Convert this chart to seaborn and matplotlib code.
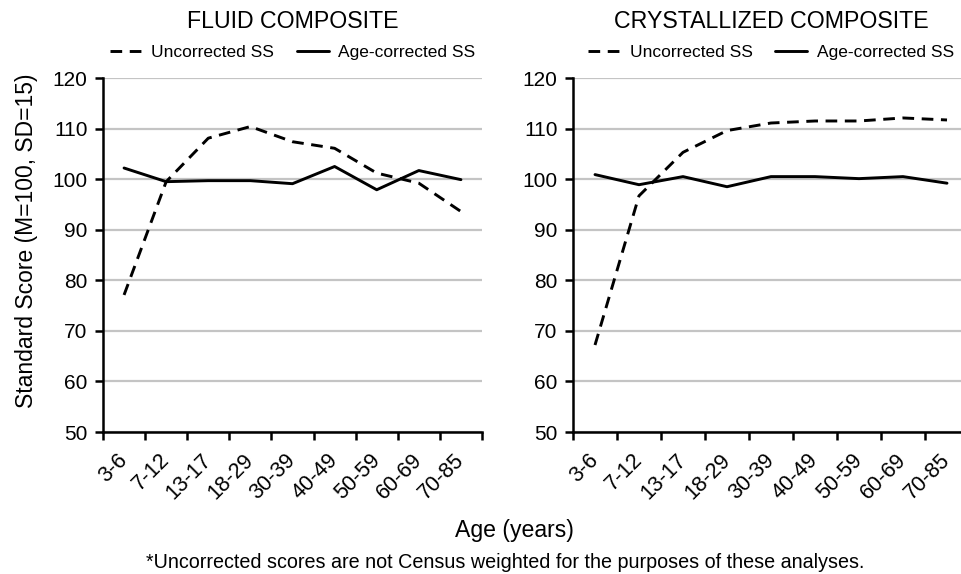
import numpy as np
import pandas as pd
import matplotlib
matplotlib.use("Agg")
import matplotlib.pyplot as plt
import matplotlib.transforms as mtransforms
import seaborn as sns

# age bands shared by both panels
ages = ["3-6", "7-12", "13-17", "18-29", "30-39", "40-49", "50-59", "60-69", "70-85"]

# values
fluid_uncorrected = [77.1, 99.5, 108.1, 110.4, 107.4, 106.1, 101.2, 99.2, 93.6]
fluid_age_corrected = [102.2, 99.5, 99.7, 99.7, 99.1, 102.5, 97.9, 101.7, 99.9]
cryst_uncorrected = [67.2, 96.7, 105.3, 109.6, 111.1, 111.5, 111.5, 112.1, 111.7]
cryst_age_corrected = [100.9, 98.9, 100.5, 98.5, 100.5, 100.5, 100.1, 100.5, 99.2]

panel_titles = ["FLUID COMPOSITE", "CRYSTALLIZED COMPOSITE"]
series_names = ["Uncorrected SS", "Age-corrected SS"]

sns.set_theme(style="white")
plt.rcParams["font.family"] = ["Liberation Sans", "DejaVu Sans"]
plt.rcParams.update({"text.color": "black", "xtick.color": "black",
                     "ytick.color": "black", "axes.labelcolor": "black"})

W, H = 961, 574
fig = plt.figure(figsize=(W / 100, H / 100), dpi=100)
# axes boxes in pixels: left, top, width; bottom edge shared at y=432
boxes = [(103, 78, 379), (573, 78, 396)]

for i, (x0, top, w) in enumerate(boxes):
    ax = fig.add_axes([x0 / W, 1 - 432 / H, w / W, (432 - top) / H])
    unc = [fluid_uncorrected, cryst_uncorrected][i]
    corr = [fluid_age_corrected, cryst_age_corrected][i]
    df = pd.DataFrame({"age": ages, "unc": unc, "corr": corr})
    sns.lineplot(data=df, x="age", y="unc", ax=ax, color="black", lw=2.1,
                 linestyle=(0, (4, 2.6)), label=series_names[0], sort=False)
    sns.lineplot(data=df, x="age", y="corr", ax=ax, color="black", lw=2.1,
                 label=series_names[1], sort=False)

    ax.set_ylim(50, 120)
    ax.set_yticks(np.arange(50, 121, 10))
    ax.set_xlim(-0.5, len(ages) - 0.5)
    # tick marks between categories, labels at category centres
    ax.set_xticks(np.arange(-0.5, len(ages)), minor=False)
    ax.set_xticklabels([])
    ax.set_xticks(np.arange(len(ages)), minor=True)
    ax.set_xticklabels(ages, minor=True, rotation=45, ha="right",
                       va="center", rotation_mode="anchor", fontsize=15.5)
    shift = mtransforms.ScaledTranslation(0.10, 0, fig.dpi_scale_trans)
    for lab in ax.get_xticklabels(minor=True):
        lab.set_transform(lab.get_transform() + shift)
    ax.tick_params(axis="x", which="major", direction="out", length=6,
                   width=1.8, color="black", bottom=True)
    ax.tick_params(axis="x", which="minor", length=0, pad=18)
    ax.tick_params(axis="y", direction="out", length=6, width=1.8,
                   color="black", left=True, labelsize=15, pad=5)
    ax.yaxis.grid(True, color="#c4c4c4", lw=1.6)
    ax.xaxis.grid(False)
    ax.set_axisbelow(True)
    for side in ["top", "right"]:
        ax.spines[side].set_visible(False)
    for side in ["left", "bottom"]:
        ax.spines[side].set_color("black")
        ax.spines[side].set_linewidth(1.8)
    ax.set_xlabel("")
    ax.set_ylabel("")

    cx = (x0 + w / 2) if i == 0 else 771
    handles, labels = ax.get_legend_handles_labels()
    ax.get_legend().remove()
    fig.legend(handles, labels, loc="center", ncol=2, frameon=False,
               bbox_to_anchor=(cx / W, 1 - 52 / H),
               prop={"size": 12.5}, handlelength=1.85,
               columnspacing=1.3, handletextpad=0.55)
    fig.text(cx / W, 1 - 22 / H, panel_titles[i], ha="center",
             va="center", fontsize=16.7)

fig.text(27 / W, 1 - 241 / H, "Standard Score (M=100, SD=15)",
         rotation=90, ha="center", va="center", fontsize=16.5)
fig.text(514 / W, 1 - 531 / H, "Age (years)", ha="center", va="center",
         fontsize=16.6)
fig.text(505 / W, 1 - 563 / H,
         "*Uncorrected scores are not Census weighted for the purposes of these analyses.",
         ha="center", va="center", fontsize=14.2)

fig.savefig("out.png", dpi=100)
